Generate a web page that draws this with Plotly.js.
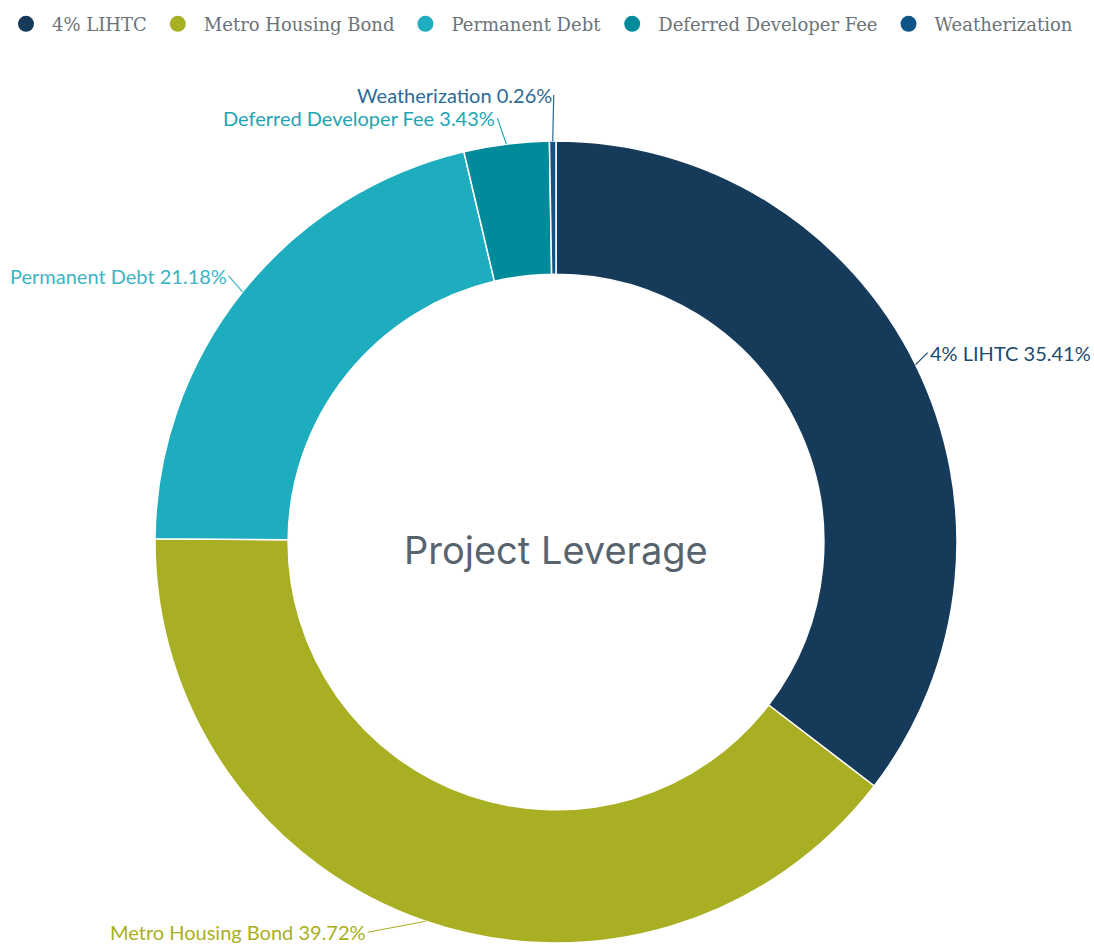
<!DOCTYPE html>
<html>
<head>
<meta charset="utf-8">
<script src="https://cdn.plot.ly/plotly-3.0.1.min.js"></script>
<style>html,body{margin:0;padding:0;background:#fff;}#chart{width:1094px;height:945px;}</style>
</head>
<body>
<div id="chart"></div>
<script>
// Data
var categories = ["4% LIHTC", "Metro Housing Bond", "Permanent Debt", "Deferred Developer Fee", "Weatherization"];
var shares = [35.41, 39.72, 21.18, 3.43, 0.26];

// Styles
var sliceColors = ["#163a5a", "#a9af22", "#1dadbe", "#008b9a", "#0f5488"];
var labelColors = ["#1f4a6e", "#a9af22", "#3db4c4", "#1ea5b2", "#2c6a96"];
// label offsets (px) from the slice edge, and text anchor
var labelOffsets = [[12, -12, "left"], [-58, 11, "right"], [-14, -16, "right"], [-9, -26, "right"], [1, -46, "right"]];

var W = 1094, H = 945;
var pieDomainX = [155 / W, 957 / W];

var traces = [{
  type: "pie",
  labels: categories,
  values: shares,
  sort: false,
  direction: "clockwise",
  rotation: 0,
  hole: 0.668,
  textinfo: "none",
  hoverinfo: "label+percent",
  showlegend: false,
  marker: {colors: sliceColors, line: {color: "#ffffff", width: 1.5}},
  domain: {x: pieDomainX, y: [0, 1]}
}];

// legend entries with circle markers
categories.forEach(function (c, i) {
  traces.push({
    type: "scatter", mode: "markers", x: [null], y: [null], name: c,
    marker: {color: sliceColors[i], size: 26, symbol: "circle"},
    showlegend: true, hoverinfo: "skip"
  });
});

// outside labels computed from data
var total = shares.reduce(function (a, b) { return a + b; }, 0);
var cx = (pieDomainX[0] + pieDomainX[1]) / 2;
var rx = (pieDomainX[1] - pieDomainX[0]) / 2;
var cum = 0;
var annotations = [];
shares.forEach(function (v, i) {
  var mid = (cum + v / 2) / total * 2 * Math.PI;
  cum += v;
  var px = cx + rx * Math.sin(mid);
  var py = 0.5 + 0.5 * Math.cos(mid);
  var off = labelOffsets[i];
  annotations.push({
    xref: "paper", yref: "paper", x: px, y: py,
    text: categories[i] + " " + v.toFixed(2) + "%",
    showarrow: true, arrowhead: 0, arrowwidth: 1.2, arrowcolor: labelColors[i],
    ax: off[0], ay: off[1], xanchor: off[2], yanchor: "middle", standoff: 0,
    font: {family: "Lato, 'Open Sans', sans-serif", size: 20, color: labelColors[i]}
  });
});
// centre title
annotations.push({
  xref: "paper", yref: "paper", x: cx, y: 0.5, yshift: -8,
  text: "Project Leverage", showarrow: false, xanchor: "center", yanchor: "middle",
  font: {family: "Inter, 'Open Sans', sans-serif", size: 38, color: "#57646e"}
});

var layout = {
  width: W, height: H,
  margin: {l: 0, r: 0, t: 141, b: 2},
  paper_bgcolor: "#ffffff", plot_bgcolor: "#ffffff",
  xaxis: {visible: false}, yaxis: {visible: false},
  showlegend: true,
  legend: {
    orientation: "h", xref: "container", yref: "container",
    x: 0, y: 0.994, xanchor: "left", yanchor: "top",
    font: {family: "'DejaVu Serif', serif", size: 18, color: "#6b7378"},
    itemsizing: "trace", itemwidth: 42
  },
  annotations: annotations
};

Plotly.newPlot("chart", traces, layout, {displayModeBar: false, staticPlot: true});
</script>
</body>
</html>
